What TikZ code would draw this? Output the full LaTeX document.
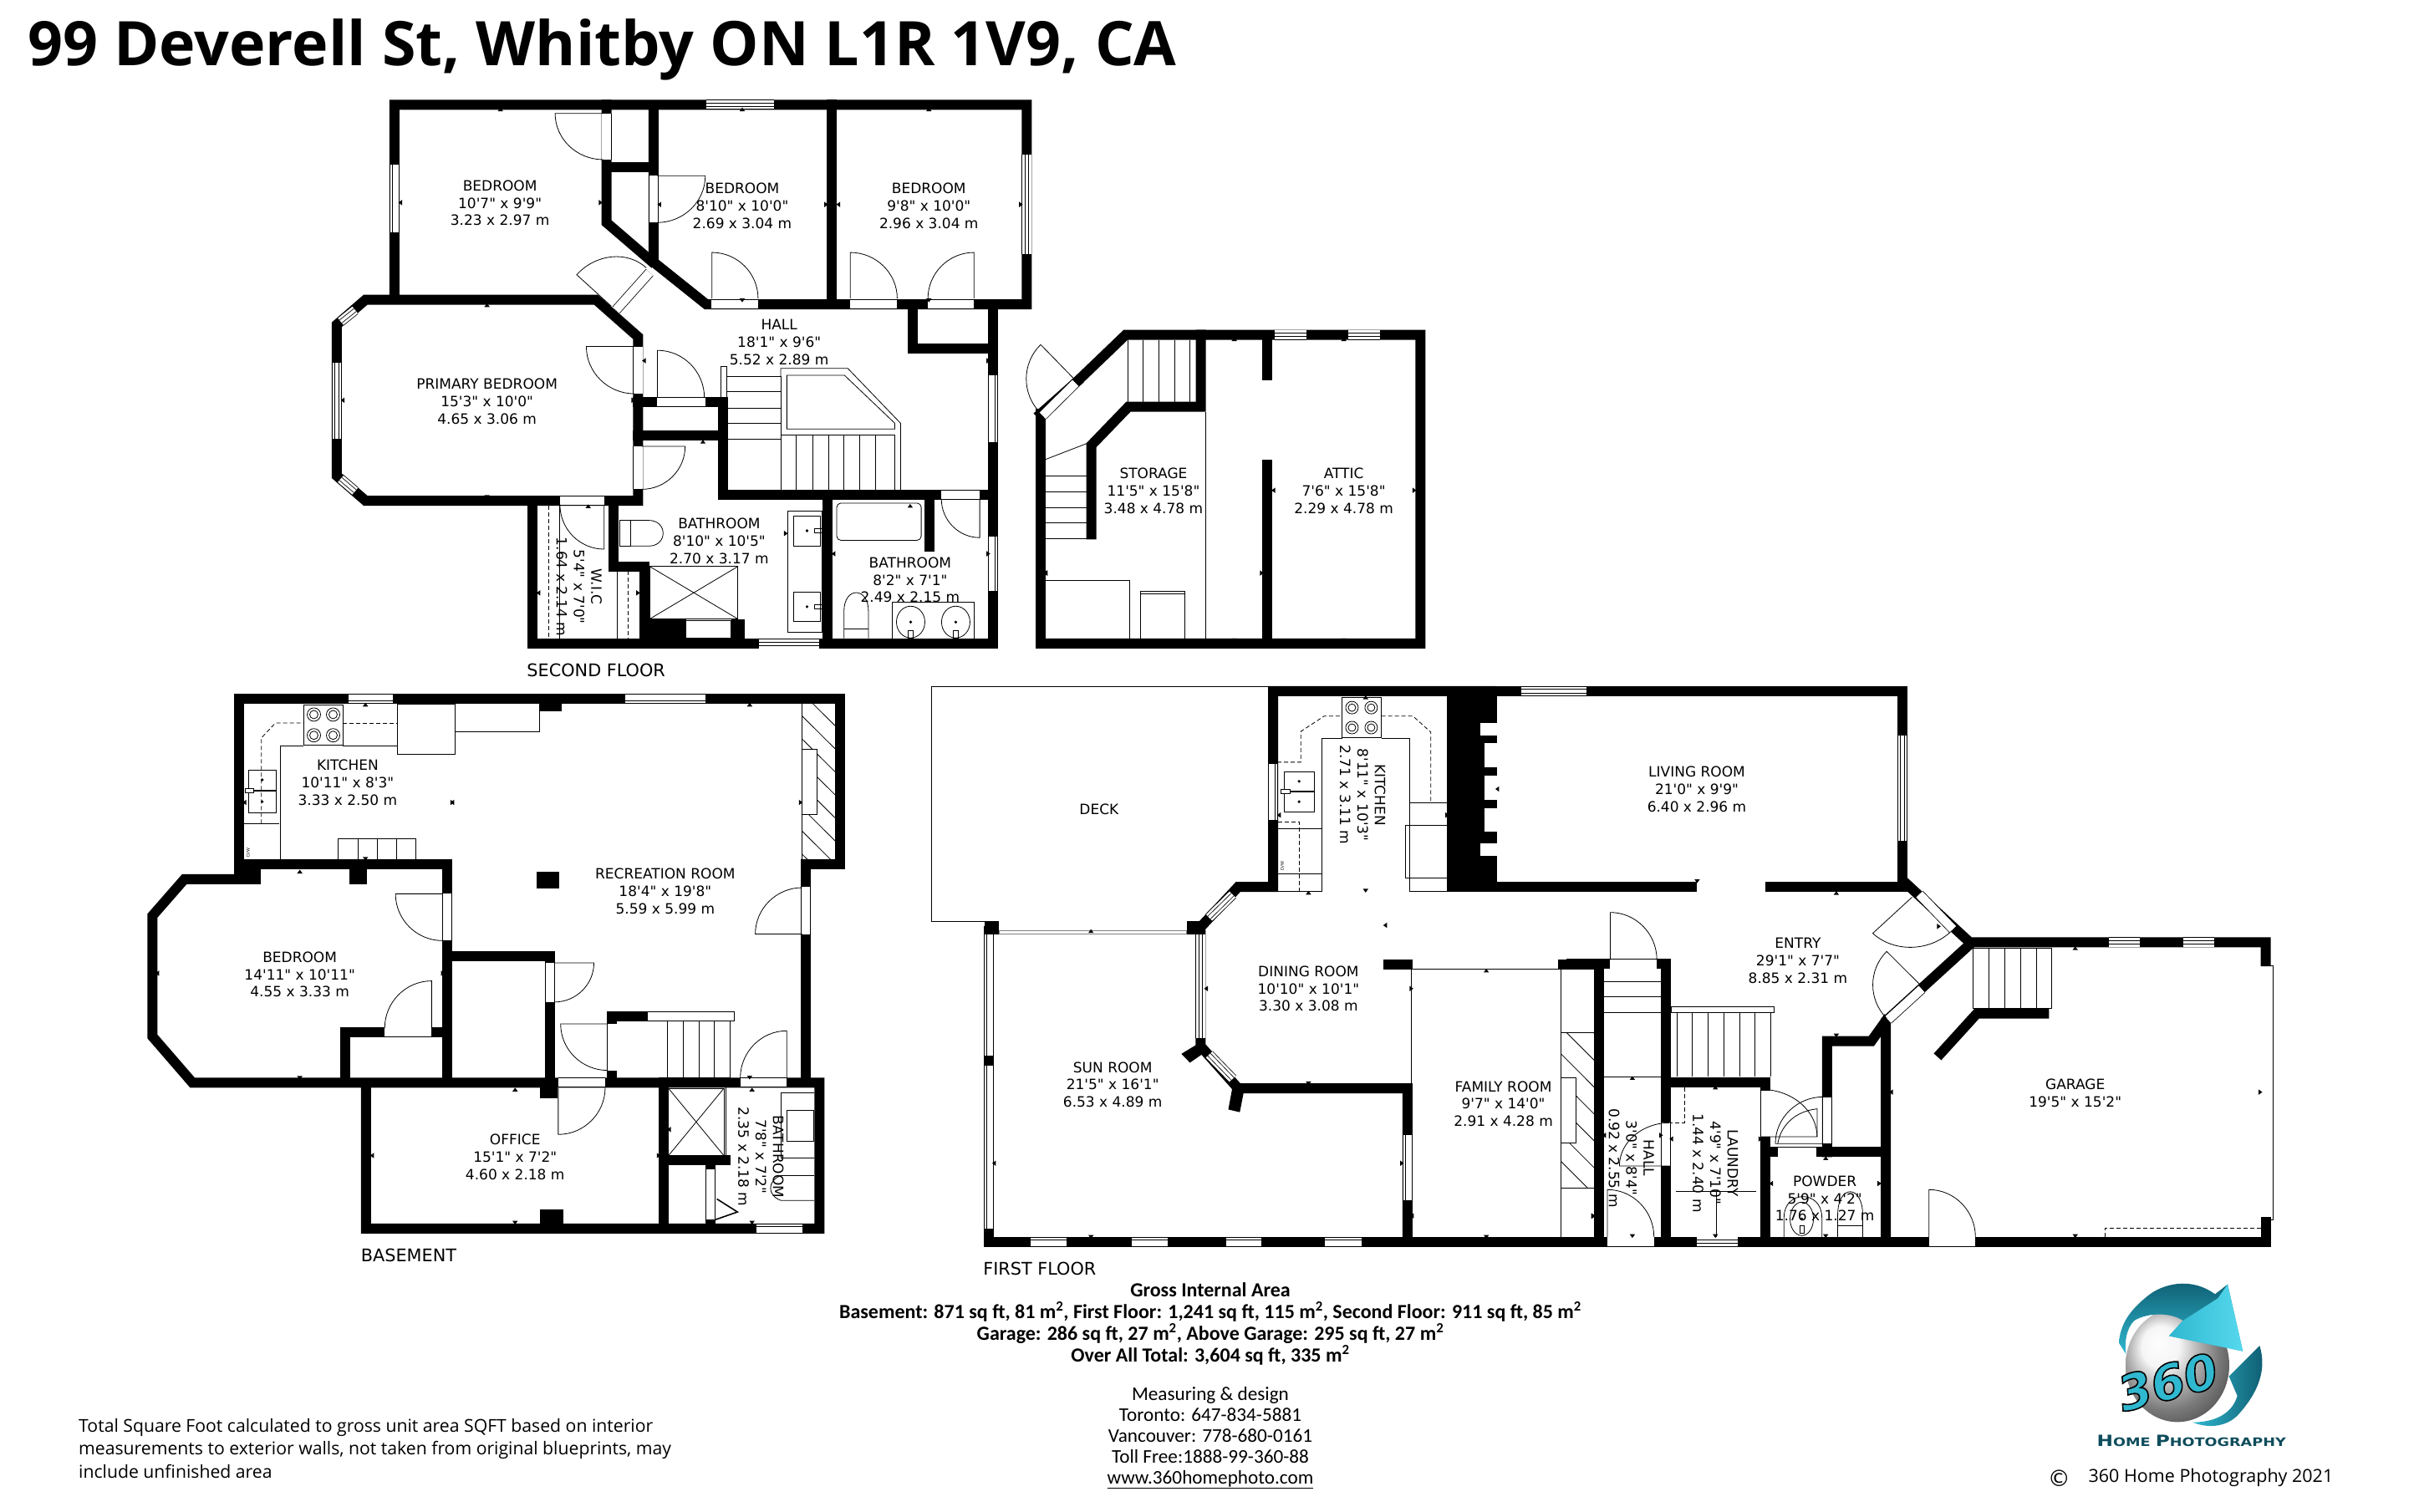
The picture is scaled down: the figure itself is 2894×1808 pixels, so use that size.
\documentclass[tikz,border=0pt]{standalone}
\usepackage{fontspec}
\setmainfont{DejaVu Sans}[Ligatures=TeXOff]
\newfontfamily\titlefont{Open Sans}
\newfontfamily\areafont{Carlito}
\usetikzlibrary{calc}
\definecolor{logodark}{HTML}{0E5A6E}
\definecolor{logoteal}{HTML}{2FB8D0}
\definecolor{logolight}{HTML}{56D8EE}
\definecolor{logonavy}{HTML}{0F4D5C}

% door leaf and swing: hinge, leaf end, swing end
\newcommand{\doorswing}[3]{\draw[fixture] (#1) -- (#2) .. controls ($(#2)+0.55*(#3)-0.55*(#1)$) and ($(#3)+0.55*(#2)-0.55*(#1)$) .. (#3);}
\newcommand{\wingap}[2]{\draw[gap] (#1) -- (#2); \draw[pane] (#1) -- (#2);}
\newcommand{\doorgap}[2]{\draw[gap] (#1) -- (#2);}
% dimension ticks: direction of tip, list of points
\newcommand{\ticks}[2]{\foreach \p in {#2} {\fill \p +(#1+90:3.2pt) -- +(#1:4.5pt) -- +(#1-90:3.2pt) -- cycle;}}

\begin{document}
\begin{tikzpicture}[x=1pt, y=-1pt,
  wall/.style={line width=12pt, line cap=rect, draw=black},
  gap/.style={line width=.8pt, double=white, double distance=10.4pt},
  pane/.style={line width=.8pt, double=white, double distance=3.5pt},
  fixture/.style={draw=black, line width=.8pt},
  dashline/.style={draw=black, line width=.8pt, dash pattern=on 5pt off 3pt},
  room/.style={align=center, font=\fontsize{17}{20.8}\selectfont, inner sep=0pt, yshift=-1.5pt},
  floorname/.style={anchor=west, font=\fontsize{20.8}{24}\selectfont, inner sep=0pt},
  areatext/.style={align=center, font=\areafont\bfseries\fontsize{24}{26}\selectfont, inner sep=0pt},
  infotext/.style={font=\areafont\fontsize{23.2}{25}\selectfont, inner sep=0pt},
  notetext/.style={anchor=west, font=\titlefont\fontsize{21.2}{27.5}\selectfont, inner sep=0pt, align=left},
  secondfloor/.style={shift={(380,100)}, x=0.574pt, y=-0.4592pt},
  atticfloor/.style={shift={(1240,380)}, x=0.3333pt, y=-0.3333pt},
  basement/.style={shift={(160,820)}, x=0.5612pt, y=-0.4592pt},
  firstleft/.style={shift={(1120,820)}, x=0.5102pt, y=-0.4592pt},
  firstright/.style={shift={(1880,1040)}, x=0.574pt, y=-0.3333pt},
  logoarea/.style={shift={(2440,1520)}, x=0.3333pt, y=-0.3333pt}]

  \useasboundingbox (0,0) rectangle (2894,1808);
  \node[anchor=west, inner sep=0pt, font=\titlefont\bfseries\fontsize{73.5}{78}\selectfont] (title) at (33,59) {99 Deverell St, Whitby ON L1R 1V9, CA};

  % Second floor ---------------
  \begin{scope}[secondfloor]
    % Walls
    \draw[wall] (160,560) -- (160,55) -- (1478,55) -- (1478,575) -- (810,575) -- (700,465) -- (700,55);
    \draw[wall] (1072,55) -- (1072,575);
    \draw[wall] (602,55) -- (602,362) -- (695,462);
    \draw[wall] (602,218) -- (700,218);
    \draw[wall] (100,563) -- (580,563) -- (668,660) -- (668,1087) -- (100,1087) -- (40,1022) -- (40,628) -- cycle;
    \draw[wall] (1408,580) -- (1408,1460);
    \draw[wall] (447,1090) -- (447,1460) -- (1408,1460);
    \draw[wall] (1240,585) -- (1240,690) -- (1400,690);
    \draw[wall] (668,830) -- (845,830) -- (845,1072) -- (1408,1072);
    \draw[wall] (668,917) -- (845,917);
    \draw[wall] (617,1090) -- (617,1258) -- (682,1258) -- (682,1455);
    \draw[wall] (1062,1072) -- (1062,1460);
    \draw[wall] (1276,1072) -- (1276,1207);
    \fill (690,1395) rectangle (768,1450);
    \fill (862,1395) rectangle (890,1450);
    % Windows and door openings
    \wingap{810,55}{952,55}
    \wingap{160,212}{160,388}
    \wingap{1478,185}{1478,445}
    \wingap{40,728}{40,925}
    \wingap{48,620}{78,590}
    \wingap{48,1030}{78,1062}
    \wingap{1408,760}{1408,935}
    \wingap{1408,1180}{1408,1322}
    \wingap{920,1460}{1045,1460}
    \doorgap{602,78}{602,198}
    \doorgap{700,240}{700,362}
    \doorgap{820,575}{918,575}
    \doorgap{1110,575}{1208,575}
    \doorgap{1272,575}{1368,575}
    \doorgap{692,492}{622,590}
    \doorgap{668,685}{668,808}
    \doorgap{708,830}{808,830}
    \doorgap{668,945}{668,1057}
    \doorgap{505,1087}{597,1087}
    \doorgap{1300,1072}{1380,1072}
    \doorswing{595,78}{495,78}{595,198}
    \doorswing{708,240}{808,240}{708,362}
    \doorswing{822,560}{822,440}{918,560}
    \doorswing{1110,560}{1110,440}{1208,560}
    \doorswing{1368,560}{1368,440}{1272,560}
    \doorswing{612,580}{540,498}{685,480}
    \doorswing{660,685}{560,685}{660,808}
    \doorswing{708,818}{708,695}{806,818}
    \doorswing{676,945}{766,945}{676,1057}
    \doorswing{597,1097}{597,1213}{505,1097}
    \doorswing{1380,1082}{1380,1183}{1300,1082}
    % Stairs
    \draw[fixture] (840,738) rectangle (852,818);
    \draw[fixture] (852,762) rectangle (965,1060);
    \foreach \y in {803,845,885,927} {\draw[fixture] (852,\y) -- (965,\y);}
    \draw[fixture] (965,762) -- (965,742) -- (1105,742) -- (1215,885) -- (1215,1060);
    \draw[fixture] (978,760) -- (1098,760) -- (1203,885) -- (1203,900) -- (978,900) -- cycle;
    \draw[fixture] (965,915) -- (1203,915) -- (1203,1060);
    \foreach \x in {998,1032,1065,1097,1130,1163} {\draw[fixture] (\x,915) -- (\x,1060);}
    % Fixtures
    \draw[fixture] (692,1258) rectangle (876,1395);
    \draw[fixture] (692,1258) -- (876,1395) (692,1395) -- (876,1258);
    \draw[fixture] (768,1398) rectangle (862,1445);
    \draw[dashline] (482,1100) -- (482,1445);
    \draw[fixture] (505,1100) -- (505,1445);
    \draw[dashline] (647,1270) -- (647,1445);
    \draw[fixture] (625,1270) -- (625,1445);
    \draw[fixture] (630,1138) rectangle (652,1205);
    \draw[fixture] (652,1138) -- (690,1138) .. controls (730,1138) and (730,1205) .. (690,1205) -- (652,1205);
    \draw[fixture] (980,1113) rectangle (1052,1430);
    \draw[fixture] (992,1127) rectangle (1048,1205);
    \draw[fixture] (992,1325) rectangle (1048,1402);
    \fill (1020,1165) circle[radius=1.8pt] (1020,1363) circle[radius=1.8pt];
    \draw[fixture] (1035,1160) rectangle (1052,1170);
    \draw[fixture] (1035,1358) rectangle (1052,1368);
    \draw[fixture, rounded corners=5pt] (1082,1093) rectangle (1258,1190);
    \draw[fixture] (1198,1445) -- (1198,1350) -- (1368,1350) -- (1368,1445);
    \draw[fixture] (1236,1403) ellipse[x radius=17pt, y radius=19pt];
    \draw[fixture] (1330,1403) ellipse[x radius=17pt, y radius=19pt];
    \fill (1236,1403) circle[radius=1.8pt] (1330,1403) circle[radius=1.8pt];
    \draw[fixture] (1231,1425) rectangle (1241,1445);
    \draw[fixture] (1325,1425) rectangle (1335,1445);
    \draw[fixture] (1097,1445) -- (1097,1375) .. controls (1097,1310) and (1148,1310) .. (1148,1375) -- (1148,1445);
    \draw[fixture] (1097,1420) -- (1148,1420);
    % Ticks
    \ticks{90}{(381,72),(885,72),(1274,72),(353,582),(564,1106),(803,938),(1235,1105)}
    \ticks{-90}{(381,552),(885,560),(1274,560),(353,1072),(1225,1060),(565,1448),(803,1447)}
    \ticks{180}{(176,310),(716,315),(1089,315),(56,825),(684,722),(1079,1225),(464,1327),(1520,1275)}
    \ticks{0}{(586,310),(1056,315),(1462,315),(654,825),(1394,722),(1394,1225),(664,1327),(972,1172)}
    % Labels
    \node[room] (bedrooma) at (380,308) {BEDROOM\\10'7" x 9'9"\\3.23 x 2.97 m};
    \node[room] (bedroomb) at (885,315) {BEDROOM\\8'10" x 10'0"\\2.69 x 3.04 m};
    \node[room] (bedroomc) at (1274,315) {BEDROOM\\9'8" x 10'0"\\2.96 x 3.04 m};
    \node[room] (hallup) at (962,670) {HALL\\18'1" x 9'6"\\5.52 x 2.89 m};
    \node[room] (primary) at (353,825) {PRIMARY BEDROOM\\15'3" x 10'0"\\4.65 x 3.06 m};
    \node[room] (bathmain) at (837,1188) {BATHROOM\\8'10" x 10'5"\\2.70 x 3.17 m};
    \node[room] (bathside) at (1235,1290) {BATHROOM\\8'2" x 7'1"\\2.49 x 2.15 m};
    \node[room, rotate=-90] (wic) at (545,1308) {W.I.C\\5'4" x 7'0"\\1.64 x 2.14 m};
    \node[floorname] (secondname) at (436,1528) {SECOND FLOOR};
  \end{scope}

  % Storage and attic ---------------
  \begin{scope}[atticfloor]
    \draw[wall] (15,1170) -- (1378,1170) -- (1378,62) -- (320,62) -- (145,230);
    \draw[wall] (15,345) -- (15,1170);
    \draw[wall] (15,345) -- (145,230);
    \draw[wall] (590,62) -- (590,320) -- (330,320) -- (197,458) -- (197,778);
    \draw[wall] (828,62) -- (828,207);
    \draw[wall] (828,528) -- (828,1170);
    \wingap{855,62}{970,62}
    \wingap{1120,62}{1232,62}
    \doorgap{140,235}{22,352}
    \doorswing{135,220}{15,97}{12,340}
    \draw[fixture] (608,338) -- (608,1152);
    \foreach \x in {328,382,440,497,550} {\draw[fixture] (\x,80) -- (\x,305);}
    \foreach \y in {568,625,682,736,793} {\draw[fixture] (30,\y) -- (180,\y);}
    \draw[fixture] (30,510) -- (180,452);
    \draw[fixture] (30,943) -- (335,943) -- (335,1152);
    \draw[fixture] (373,1152) -- (373,983) -- (533,983) -- (533,1152);
    \draw[fixture] (373,990) -- (533,990);
    \ticks{90}{(710,84),(1103,84)}
    \ticks{-90}{(710,1152),(1103,1152)}
    \ticks{180}{(40,917),(857,620)}
    \ticks{0}{(802,917),(1350,620)}
    \node[room] (storage) at (420,617) {STORAGE\\11'5" x 15'8"\\3.48 x 4.78 m};
    \node[room] (attic) at (1103,617) {ATTIC\\7'6" x 15'8"\\2.29 x 4.78 m};
  \end{scope}

  % Basement ---------------
  \begin{scope}[basement]
    \draw[wall] (225,505) -- (225,35) -- (1505,35) -- (1505,465) -- (1433,465) -- (1433,1035);
    \draw[wall] (225,505) -- (108,505) -- (40,600) -- (40,915) -- (125,1035) -- (1462,1035) -- (1462,1415) -- (495,1415) -- (495,1035);
    \draw[wall] (225,465) -- (668,465) -- (668,1035);
    \draw[wall] (668,705) -- (887,705) -- (887,1035);
    \draw[wall] (450,1035) -- (450,903) -- (668,903);
    \draw[wall] (1020,1035) -- (1020,862) -- (1085,862);
    \draw[wall] (1130,1035) -- (1130,1415);
    \draw[wall] (1130,1237) -- (1262,1237);
    \draw[wall] (1230,1237) -- (1230,1415);
    \fill (225,480) rectangle (270,518);
    \fill (460,480) rectangle (497,518);
    \fill (865,45) rectangle (912,68);
    \fill (859,486) rectangle (907,530);
    \fill (866,1045) rectangle (903,1075);
    \fill (866,1365) rectangle (915,1405);
    % Windows and door openings
    \wingap{458,35}{553,35}
    \wingap{1047,35}{1218,35}
    \wingap{1328,1415}{1425,1415}
    \doorgap{668,543}{668,665}
    \doorgap{887,723}{887,825}
    \doorgap{1433,525}{1433,648}
    \doorgap{1020,882}{1020,1003}
    \doorgap{535,903}{635,903}
    \doorgap{905,1035}{1005,1035}
    \doorgap{1293,1035}{1392,1035}
    \doorgap{1230,1260}{1230,1392}
    \doorswing{658,543}{558,543}{658,665}
    \doorswing{897,723}{981,723}{897,825}
    \doorswing{1425,648}{1325,648}{1425,527}
    \doorswing{1010,882}{910,882}{1010,1003}
    \doorswing{635,893}{635,770}{535,893}
    \doorswing{905,1048}{905,1170}{1005,1048}
    \doorswing{1392,1023}{1392,900}{1293,1023}
    \draw[line width=1.6pt] (1240,1392) -- (1287,1372) -- (1243,1338);
    \draw[fixture] (1095,850) rectangle (1280,875);
    % Kitchen
    \draw[fixture] (362,50) rectangle (446,155);
    \foreach \x in {384,425} {\foreach \y in {76,130} {\draw[fixture] (\x,\y) circle[radius=8pt] (\x,\y) circle[radius=5pt];}}
    \draw[fixture] (312,452) -- (312,157) -- (362,157);
    \draw[fixture] (446,157) -- (562,157);
    \draw[fixture] (562,48) rectangle (685,180);
    \draw[fixture] (685,120) -- (865,120) -- (865,68);
    \draw[dashline] (272,360) -- (272,137) -- (302,98) -- (362,98);
    \draw[dashline] (446,98) -- (562,98);
    \draw[fixture] (245,220) rectangle (304,332);
    \draw[line width=1.5pt] (245,274) -- (304,274);
    \draw[fixture, fill=white] (238,268) rectangle (256,280);
    \fill (274,246) circle[radius=1.8pt] (274,303) circle[radius=1.8pt];
    \draw[fixture] (235,360) -- (310,360);
    \node[rotate=90, inner sep=0pt, font=\fontsize{5}{6}\selectfont] (dwbase) at (244,435) {D/W};
    \draw[fixture] (436,452) -- (436,400) -- (601,400) -- (601,452);
    \foreach \x in {479,520,560} {\draw[fixture] (\x,400) -- (\x,452);}
    % Fireplace
    \begin{scope}
      \clip (1425,48) rectangle (1495,452);
      \foreach \k in {-40,20,...,440} {\draw[fixture] (1425,\k) -- ++(70,85);}
    \end{scope}
    \draw[fixture] (1425,48) -- (1425,452);
    \draw[fixture, fill=white] (1425,167) rectangle (1457,336);
    % Stairs
    \draw[fixture] (1138,875) rectangle (1272,1022);
    \foreach \x in {1172,1205,1238} {\draw[fixture] (\x,875) -- (\x,1022);}
    % Bathroom
    \draw[fixture] (1140,1050) rectangle (1258,1225);
    \draw[fixture] (1140,1050) -- (1258,1225) (1140,1225) -- (1258,1050);
    \draw[fixture] (1262,1048) -- (1262,1225);
    \draw[fixture] (1450,1062) -- (1380,1062) -- (1380,1232) -- (1450,1232);
    \draw[fixture] (1392,1107) rectangle (1450,1187);
    \draw[fixture] (1450,1277) -- (1380,1277) .. controls (1350,1290) and (1350,1330) .. (1380,1342) -- (1450,1342);
    % Ticks
    \ticks{90}{(494,55),(1313,55),(354,490),(813,1058),(1318,1058)}
    \ticks{-90}{(494,447),(354,1018),(1313,1017),(813,1395),(1318,1395)}
    \ticks{180}{(240,305),(54,750),(683,305),(512,1225),(1145,1157)}
    \ticks{0}{(675,305),(1418,305),(655,750),(1115,1225)}
    % Labels
    \node[room] (kitchenbase) at (456,250) {KITCHEN\\10'11" x 8'3"\\3.33 x 2.50 m};
    \node[room] (recreation) at (1133,533) {RECREATION ROOM\\18'4" x 19'8"\\5.59 x 5.99 m};
    \node[room] (bedroombase) at (354,750) {BEDROOM\\14'11" x 10'11"\\4.55 x 3.33 m};
    \node[room] (office) at (813,1225) {OFFICE\\15'1" x 7'2"\\4.60 x 2.18 m};
    \node[room, rotate=-90] (bathbase) at (1337,1225) {BATHROOM\\7'8" x 7'2"\\2.35 x 2.18 m};
    \node[floorname] (basename) at (484,1485) {BASEMENT};
  \end{scope}

  % First floor, left ---------------
  \begin{scope}[firstleft]
    % Deck outline
    \draw[line width=1pt] (-10,3) -- (780,3);
    \draw[line width=1pt] (-10,3) -- (-10,615) -- (113,615);
    % Walls
    \draw[wall] (123,640) -- (123,1450) -- (1568,1450);
    \draw[wall] (620,650) -- (620,940) -- (708,1050) -- (1105,1050) -- (1105,1450);
    \draw[wall] (620,630) -- (708,525) -- (790,525) -- (790,15) -- (1300,15);
    \draw[wall] (1060,727) -- (1105,727);
    \draw[wall] (1470,727) -- (1555,727) -- (1555,1450);
    \fill (113,615) rectangle (147,650);
    \fill (587,615) rectangle (630,650);
    \fill (113,965) rectangle (133,990);
    \fill (575,960) -- (612,935) -- (625,960) -- (595,983) -- cycle;
    \fill (695,1045) -- (722,1055) -- (712,1112) -- (685,1105) -- cycle;
    % Chimney
    \fill (1198,15) rectangle (1315,537);
    \foreach \t/\b/\l in {97/130/1276,150/213/1285,235/298/1285,320/382/1285,412/445/1276} {\fill[white] (\l,\t) rectangle (1315,\b);}
    % Windows
    \wingap{123,650}{123,965}
    \wingap{123,990}{123,1415}
    \wingap{620,650}{620,918}
    \wingap{640,605}{695,545}
    \wingap{640,962}{695,1025}
    \wingap{790,205}{790,350}
    \wingap{1105,1172}{1105,1342}
    \wingap{222,1450}{305,1450}
    \wingap{458,1450}{543,1450}
    \wingap{680,1450}{763,1450}
    \wingap{912,1450}{997,1450}
    \draw[draw=gray, line width=.8pt] (147,639) rectangle (587,647);
    % Kitchen
    \draw[fixture] (952,32) rectangle (1044,135);
    \foreach \x in {975,1020} {\foreach \y in {58,110} {\draw[fixture] (\x,\y) circle[radius=7.5pt] (\x,\y) circle[radius=4.5pt];}}
    \draw[fixture] (802,537) -- (905,537) -- (905,138) -- (952,138);
    \draw[fixture] (1044,138) -- (1110,138) -- (1110,537) -- (1198,537);
    \draw[fixture] (1110,305) -- (1198,305);
    \draw[fixture] (1100,365) rectangle (1198,502);
    \draw[fixture] (802,373) -- (905,373);
    \draw[fixture] (802,490) -- (905,490);
    \draw[dashline] (800,200) -- (855,200) -- (855,120) -- (910,80) -- (952,80);
    \draw[dashline] (1044,80) -- (1118,80) -- (1160,122) -- (1160,305);
    \draw[dashline] (802,355) -- (852,355) -- (852,537);
    \draw[fixture] (816,225) rectangle (887,275);
    \draw[fixture] (816,278) rectangle (887,330);
    \draw[fixture, fill=white] (808,270) rectangle (830,282);
    \fill (851,250) circle[radius=1.8pt] (851,303) circle[radius=1.8pt];
    \node[rotate=90, inner sep=0pt, font=\fontsize{5}{6}\selectfont] (drybase) at (812,470) {D/W};
    % Family room
    \draw[fixture] (1115,740) -- (1465,740) -- (1465,1440);
    \draw[fixture] (1115,740) -- (1115,1040);
    \begin{scope}
      \clip (1465,905) rectangle (1545,1310);
      \foreach \k in {820,890,...,1310} {\draw[fixture] (1465,\k) -- ++(80,89);}
    \end{scope}
    \draw[fixture] (1465,905) -- (1545,905) (1465,1310) -- (1545,1310);
    \draw[fixture, fill=white] (1465,1022) rectangle (1500,1192);
    % Ticks
    \ticks{90}{(1007,36),(873,545),(363,645),(1290,748)}
    \ticks{-90}{(1007,530),(873,1032),(363,1432),(1290,1432)}
    \ticks{180}{(808,338),(1057,625),(637,790),(140,1245),(1120,1382),(1320,270)}
    \ticks{0}{(1194,338),(1110,790),(1088,1245),(1536,1382)}
    % Labels
    \node[room] (deck) at (382,320) {DECK};
    \node[room, rotate=-90] (kitchenmain) at (1000,282) {KITCHEN\\8'11" x 10'3"\\2.71 x 3.11 m};
    \node[room] (dining) at (873,787) {DINING ROOM\\10'10" x 10'1"\\3.30 x 3.08 m};
    \node[room] (sunroom) at (414,1037) {SUN ROOM\\21'5" x 16'1"\\6.53 x 4.89 m};
    \node[room] (family) at (1330,1087) {FAMILY ROOM\\9'7" x 14'0"\\2.91 x 4.28 m};
    \node[floorname] (firstname) at (110,1520) {FIRST FLOOR};
  \end{scope}

  % Living room ---------------
  \draw[wall] (1785,827) -- (2276,827) -- (2276,1061) -- (2118,1061);
  \draw[wall] (1785,1061) -- (2024,1061);
  \wingap{1820,827}{1898,827}
  \wingap{2276,880}{2276,1006}
  \node[room] (living) at (2030,943) {LIVING ROOM\\21'0" x 9'9"\\6.40 x 2.96 m};

  % First floor, right ---------------
  \begin{scope}[firstright]
    % Walls
    \draw[wall] (0,340) -- (197,340) -- (197,1337);
    \draw[wall] (57,340) -- (57,1337);
    \draw[wall] (0,1337) -- (1447,1337) -- (1447,1265);
    \draw[wall] (1447,330) -- (1447,262) -- (830,262) -- (700,55);
    \draw[wall] (830,270) -- (655,545) -- (655,1337);
    \draw[wall] (655,545) -- (625,617) -- (533,617) -- (533,1015);
    \draw[wall] (405,1015) -- (655,1015);
    \draw[wall] (405,1337) -- (405,965);
    \draw[wall] (197,765) -- (405,765);
    \draw[wall] (405,765) -- (405,790);
    \draw[wall] (985,518) -- (845,518) -- (770,660);
    % Windows and door openings
    \wingap{1120,262}{1185,262}
    \wingap{1275,262}{1340,262}
    \wingap{262,1337}{347,1337}
    \doorgap{725,90}{795,215}
    \doorgap{730,430}{660,540}
    \doorgap{80,340}{178,340}
    \doorgap{75,1337}{172,1337}
    \doorgap{745,1337}{842,1337}
    \doorgap{430,1015}{510,1015}
    \doorgap{197,910}{197,1065}
    \doorgap{405,795}{405,960}
    \doorgap{533,820}{533,985}
    \doorswing{81,325}{81,155}{178,325}
    \doorswing{710,100}{628,230}{790,225}
    \doorswing{727,415}{657,295}{657,535}
    \doorswing{205,1065}{100,1065}{205,910}
    \doorswing{75,1320}{75,1150}{172,1320}
    \doorswing{745,1320}{745,1150}{842,1320}
    \doorswing{395,960}{512,960}{395,790}
    \doorswing{525,985}{425,985}{525,817}
    \draw[fixture] (512,960) -- (512,860) .. controls (460,870) and (435,930) .. (430,985);
    % Garage
    \draw[draw=black, line width=.8pt] (1447,345) -- (1463,345) -- (1463,1258) -- (1447,1258);
    \draw[fixture] (837,282) rectangle (1000,500);
    \foreach \x in {870,903,936,969} {\draw[fixture] (\x,282) -- (\x,500);}
    \draw[dashline] (1113,1320) -- (1113,1288) -- (1437,1288);
    % Stairs
    \foreach \y in {403,457,515,745} {\draw[fixture] (67,\y) -- (187,\y);}
    \draw[fixture] (208,493) rectangle (422,515);
    \foreach \x in {187,220,252,285,317,350,382,415} {\draw[fixture] (\x,515) -- (\x,745);}
    % Laundry and powder
    \draw[dashline] (235,783) -- (235,910) -- (207,910);
    \draw[line width=1.2pt] (218,1157) -- (385,1157);
    \draw[fixture] (302,1157) -- (302,1320);
    \draw[fixture] (443,1320) -- (443,1250) .. controls (443,1150) and (522,1150) .. (522,1250) -- (522,1320);
    \draw[fixture] (480,1255) ellipse[x radius=14pt, y radius=20pt];
    \fill (480,1255) circle[radius=1.8pt];
    \draw[fixture] (476,1280) rectangle (485,1305);
    \draw[fixture] (555,1320) -- (555,1240) .. controls (555,1130) and (607,1130) .. (607,1240) -- (607,1320);
    \draw[fixture] (555,1278) -- (607,1278);
    % Ticks
    \ticks{-90}{(262,36),(552,590),(1050,1310),(127,1310),(300,1310),(530,1310)}
    \ticks{90}{(552,92),(1050,290),(127,756),(300,790),(530,1044)}
    \ticks{180}{(670,800),(212,968),(420,1128),(72,955)}
    \ticks{0}{(762,205),(1432,800),(390,968),(638,1128),(183,955),(42,1245)}
    % Labels
    \node[room] (entry) at (472,323) {ENTRY\\29'1" x 7'7"\\8.85 x 2.31 m};
    \node[room] (garage) at (1050,798) {GARAGE\\19'5" x 15'2"};
    \node[room, rotate=-90] (hallmain) at (125,1032) {HALL\\3'0" x 8'4"\\0.92 x 2.55 m};
    \node[room, rotate=-90] (laundry) at (300,1050) {LAUNDRY\\4'9" x 7'10"\\1.44 x 2.40 m};
    \node[room] (powder) at (528,1177) {POWDER\\5'9" x 4'2"\\1.76 x 1.27 m};
  \end{scope}

  % Text blocks ---------------
  \node[areatext] (grossarea) at (1448,1584) {Gross Internal Area\\Basement: 871 sq ft, 81 m\textsuperscript{2}, First Floor: 1,241 sq ft, 115 m\textsuperscript{2}, Second Floor: 911 sq ft, 85 m\textsuperscript{2}\\Garage: 286 sq ft, 27 m\textsuperscript{2}, Above Garage: 295 sq ft, 27 m\textsuperscript{2}\\Over All Total: 3,604 sq ft, 335 m\textsuperscript{2}};
  \node[infotext, align=center] (contact) at (1448,1720) {Measuring \& design\\Toronto: 647-834-5881\\Vancouver: 778-680-0161\\Toll Free:1888-99-360-88\\\underline{www.360homephoto.com}};
  \node[notetext] (note) at (94,1733) {Total Square Foot calculated to gross unit area SQFT based on interior\\measurements to exterior walls, not taken from original blueprints, may\\include unfinished area};

  % Logo ---------------
  \begin{scope}[logoarea]
    \shade[ball color=gray!10] (495,340) ellipse[x radius=62pt, y radius=68pt];
    \shade[top color=logodark, bottom color=logoteal] (285,260) .. controls (290,180) and (340,130) .. (390,90) .. controls (440,50) and (540,20) .. (630,85) -- (675,50) -- (730,290) -- (465,235) -- (515,180) .. controls (470,150) and (390,150) .. (340,180) .. controls (310,210) and (305,260) .. (310,300) -- cycle;
    \shade[left color=logoteal, right color=logolight] (640,100) -- (675,50) -- (730,290) -- (465,235) -- (515,180) -- cycle;
    \shade[left color=logoteal, right color=logodark] (680,380) -- (790,270) .. controls (815,350) and (790,430) .. (720,510) .. controls (680,560) and (610,570) .. (550,545) .. controls (620,545) and (690,520) .. (710,450) -- cycle;
    \node[inner sep=0pt, rotate=15, text=logoteal, font=\bfseries\itshape\fontsize{58}{62}\selectfont] (logonum) at (460,400) {\special{pdf:code 2 Tr 1.6 w 0 0 0 RG}360\special{pdf:code 0 Tr}};
    \node[inner sep=0pt, xscale=1.26, text=logonavy, font=\bfseries] (logoname) at (545,612) {\fontsize{18.5}{20}\selectfont H\fontsize{14}{20}\selectfont OME \fontsize{18.5}{20}\selectfont P\fontsize{14}{20}\selectfont HOTOGRAPHY};
    \node[inner sep=0pt, font=\fontsize{27}{28}\selectfont] (copymark) at (70,745) {©};
    \node[anchor=west, inner sep=0pt, font=\titlefont\fontsize{21.5}{24}\selectfont] (copyname) at (175,745) {360 Home Photography 2021};
  \end{scope}
\end{tikzpicture}
\end{document}
